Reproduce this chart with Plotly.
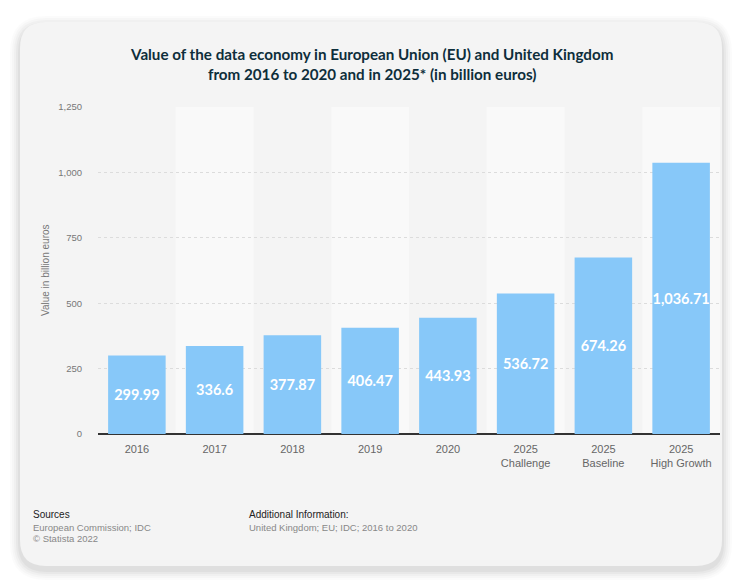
import plotly.graph_objects as go

categories = ["2016", "2017", "2018", "2019", "2020",
              "2025<br>Challenge", "2025<br>Baseline", "2025<br>High Growth"]
values = [299.99, 336.6, 377.87, 406.47, 443.93, 536.72, 674.26, 1036.71]
y_ticks = [0, 250, 500, 750, 1000, 1250]

OFF = 8  # default page body margin
W, H = 744 - OFF, 587 - OFF
L, R, T, B = 98 - OFF, 24, 107 - OFF, 153
PW, PH = W - L - R, H - T - B


def px(x):
    return (x - OFF - L) / PW


def py(y):
    return (H - B - (y - OFF)) / PH


def rrect(x0, y0, x1, y1, r):
    rx, ry = r / PW, r / PH
    X0, X1, Y0, Y1 = px(x0), px(x1), py(y1), py(y0)
    return (f"M {X0+rx},{Y0} L {X1-rx},{Y0} Q {X1},{Y0} {X1},{Y0+ry} "
            f"L {X1},{Y1-ry} Q {X1},{Y1} {X1-rx},{Y1} L {X0+rx},{Y1} "
            f"Q {X0},{Y1} {X0},{Y1-ry} L {X0},{Y0+ry} Q {X0},{Y0} {X0+rx},{Y0} Z")


shapes = []
# soft shadow
for i, a in enumerate([0.015, 0.02, 0.025, 0.03, 0.035]):
    d = 10 - 2 * i
    shapes.append(dict(type="path", xref="paper", yref="paper", layer="below",
                       path=rrect(20 - d, 22 - d + 4, 722 + d, 566 + d + 4, 26 + d),
                       fillcolor=f"rgba(0,0,0,{a})", line=dict(width=0)))
# card
shapes.append(dict(type="path", xref="paper", yref="paper", layer="below",
                   path=rrect(20, 22, 722, 566, 26),
                   fillcolor="#f4f4f4", line=dict(width=0)))
# alternating column bands
for i in range(len(categories)):
    if i % 2 == 1:
        shapes.append(dict(type="rect", xref="x", yref="paper", layer="below",
                           x0=i - 0.5, x1=i + 0.5, y0=0, y1=1,
                           fillcolor="#f9f9f9", line=dict(width=0)))

labels = [f"{v:,}" for v in values]

fig = go.Figure(go.Bar(
    x=list(range(len(categories))), y=values, text=labels,
    textposition="inside", insidetextanchor="middle", textangle=0,
    constraintext="none",
    textfont=dict(family="Lato", size=14.5, color="white", weight="bold"),
    marker=dict(color="#87c8f9", line=dict(width=0)),
    cliponaxis=False,
))

annotations = [
    dict(text="<b>Value of the data economy in European Union (EU) and United Kingdom<br>"
              "from 2016 to 2020 and in 2025* (in billion euros)</b>",
         xref="paper", yref="paper", x=px(371), y=py(64), xanchor="center", yanchor="middle",
         showarrow=False, align="center",
         font=dict(family="Lato", size=15.2, color="#0e2e3b")),
    dict(text="Sources", xref="paper", yref="paper", x=px(31), y=py(514),
         xanchor="left", yanchor="middle", showarrow=False,
         font=dict(family="Liberation Sans", size=10, color="#222")),
    dict(text="European Commission; IDC", xref="paper", yref="paper", x=px(31), y=py(527),
         xanchor="left", yanchor="middle", showarrow=False,
         font=dict(family="Liberation Sans", size=9.5, color="#888")),
    dict(text="© Statista 2022", xref="paper", yref="paper", x=px(31), y=py(538),
         xanchor="left", yanchor="middle", showarrow=False,
         font=dict(family="Liberation Sans", size=9.5, color="#888")),
    dict(text="Additional Information:", xref="paper", yref="paper", x=px(247), y=py(514),
         xanchor="left", yanchor="middle", showarrow=False,
         font=dict(family="Liberation Sans", size=10, color="#222")),
    dict(text="United Kingdom; EU; IDC; 2016 to 2020", xref="paper", yref="paper",
         x=px(247), y=py(527), xanchor="left", yanchor="middle", showarrow=False,
         font=dict(family="Liberation Sans", size=9.5, color="#888")),
    dict(text="Value in billion euros", xref="paper", yref="paper", x=px(45), y=py(270),
         xanchor="center", yanchor="middle", textangle=-90, showarrow=False,
         font=dict(family="Liberation Sans", size=10, color="#777")),
]

fig.update_layout(
    width=W, height=H,
    margin=dict(l=L, r=R, t=T, b=B),
    paper_bgcolor="white", plot_bgcolor="rgba(0,0,0,0)",
    shapes=shapes, annotations=annotations,
    bargap=0.26, showlegend=False,
    font=dict(family="Liberation Sans"),
    xaxis=dict(tickmode="array", tickvals=list(range(len(categories))), ticktext=categories,
               range=[-0.5, len(categories) - 0.5], showgrid=False, showline=False,
               ticks="", ticklabelstandoff=7,
               tickfont=dict(family="Liberation Sans", size=11, color="#666"),
               fixedrange=True),
    yaxis=dict(range=[0, 1250], tickvals=y_ticks, tickformat=",",
               showgrid=True, gridcolor="#dcdcdc", griddash="dot", gridwidth=1,
               zeroline=True, zerolinecolor="#333333", zerolinewidth=2,
               showline=False, ticks="", ticklabelstandoff=15,
               tickfont=dict(family="Liberation Sans", size=9.5, color="#777"),
               fixedrange=True),
)

fig.write_html("out.html")
